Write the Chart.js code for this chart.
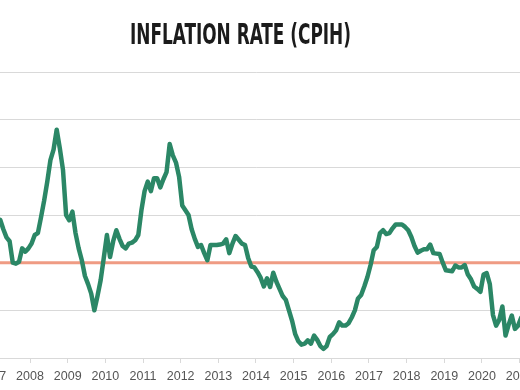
<!DOCTYPE html>
<html><head><meta charset="utf-8">
<script src="https://cdn.jsdelivr.net/npm/chart.js@4"></script>
<style>
html,body{margin:0;padding:0;background:#fff;width:520px;height:390px;overflow:hidden;position:relative}
#title{position:absolute;left:130px;top:21px;white-space:nowrap;font-family:"Liberation Sans Narrow","DejaVu Sans Condensed","Liberation Sans",sans-serif;font-weight:bold;font-size:28px;color:#1b1b1b;transform-origin:0 0;line-height:1}
#wrap{position:absolute;left:-28px;top:0;width:568px;height:391px}
</style></head><body>
<div id="wrap"><canvas id="c" width="568" height="391"></canvas></div>
<div id="title">INFLATION RATE (CPIH)</div>
<script>
const startYear = 2007;
const cpih2007 = [2.8, 2.9, 2.9, 2.7, 2.53, 2.45, 2.0, 1.98, 2.02, 2.3, 2.23, 2.3];
const cpih2008 = [2.4, 2.58, 2.62, 2.95, 3.3, 3.7, 4.15, 4.37, 4.79, 4.4, 3.95, 3.0];
const cpih2009 = [2.89, 3.07, 2.62, 2.3, 2.05, 1.72, 1.55, 1.35, 1.0, 1.3, 1.63, 2.1];
const cpih2010 = [2.58, 2.12, 2.45, 2.68, 2.5, 2.35, 2.3, 2.4, 2.42, 2.47, 2.58, 3.1];
const cpih2011 = [3.5, 3.7, 3.5, 3.77, 3.77, 3.58, 3.75, 3.9, 4.49, 4.25, 4.1, 3.8];
const cpih2012 = [3.2, 3.1, 3.0, 2.7, 2.5, 2.33, 2.37, 2.2, 2.05, 2.37, 2.37, 2.37];
const cpih2013 = [2.38, 2.4, 2.49, 2.2, 2.4, 2.56, 2.48, 2.4, 2.37, 2.1, 1.92, 1.9];
const cpih2014 = [1.8, 1.68, 1.5, 1.67, 1.49, 1.79, 1.6, 1.45, 1.3, 1.22, 1.0, 0.78];
const cpih2015 = [0.5, 0.35, 0.28, 0.3, 0.37, 0.3, 0.47, 0.38, 0.25, 0.19, 0.25, 0.44];
const cpih2016 = [0.5, 0.58, 0.75, 0.68, 0.68, 0.73, 0.85, 1.0, 1.25, 1.32, 1.5, 1.7];
const cpih2017 = [1.95, 2.26, 2.33, 2.62, 2.68, 2.6, 2.62, 2.72, 2.8, 2.8, 2.8, 2.75];
const cpih2018 = [2.68, 2.54, 2.35, 2.21, 2.25, 2.28, 2.28, 2.38, 2.2, 2.19, 2.18, 2.0];
const cpih2019 = [1.84, 1.83, 1.82, 1.94, 1.9, 1.9, 1.95, 1.75, 1.65, 1.5, 1.45, 1.39];
const cpih2020 = [1.75, 1.78, 1.55, 0.9, 0.68, 0.8, 1.08, 0.47, 0.7, 0.89, 0.61, 0.68];
const cpih2021 = [0.85];
const tickYears = [2007, 2008, 2009, 2010, 2011, 2012, 2013, 2014, 2015, 2016, 2017, 2018, 2019, 2020, 2021];
const targetRate = 2;

const series = [cpih2007, cpih2008, cpih2009, cpih2010, cpih2011, cpih2012, cpih2013,
  cpih2014, cpih2015, cpih2016, cpih2017, cpih2018, cpih2019, cpih2020, cpih2021].flat();
const xMin = startYear - 0.5, xMax = tickYears[tickYears.length - 1] + 0.5;
const points = series.map((v, i) => ({ x: startYear + (i + 0.5) / 12, y: v }));
const target = [{ x: xMin, y: targetRate }, { x: xMax, y: targetRate }];

// title fit
const t = document.getElementById('title');
const w = t.getBoundingClientRect().width;
t.style.transform = 'scaleX(' + (221 / w) + ')';

new Chart(document.getElementById('c'), {
  type: 'line',
  data: {
    datasets: [
      { label: 'CPIH', data: points, borderColor: '#2b8766', borderWidth: 4.5, pointRadius: 0, tension: 0, order: 0, borderJoinStyle: 'round', borderCapStyle: 'round', fill: false },
      { label: 'Target', data: target, borderColor: '#ef9b83', borderWidth: 3, pointRadius: 0, tension: 0, order: 1, fill: false }
    ]
  },
  options: {
    responsive: false, animation: false, devicePixelRatio: 1,
    layout: { padding: { top: 72, bottom: 0, left: 0, right: 0 } },
    plugins: { legend: { display: false }, tooltip: { enabled: false }, title: { display: false } },
    scales: {
      x: {
        type: 'linear', min: xMin, max: xMax,
        afterBuildTicks: ax => { ax.ticks = tickYears.map(v => ({ value: v })); },
        ticks: { callback: v => String(v), color: '#555555', font: { family: 'Liberation Sans', size: 12.5 }, padding: 6.5, maxRotation: 0, autoSkip: false },
        grid: { drawOnChartArea: false, drawTicks: true, tickLength: 5, color: '#d9d9d9' },
        border: { display: true, color: '#d9d9d9', width: 1 }
      },
      y: {
        min: 0, max: 6,
        ticks: { display: false, stepSize: 1 },
        grid: { color: '#d9d9d9', drawTicks: false, lineWidth: 1 },
        border: { display: false }
      }
    }
  }
});
</script>
</body></html>
